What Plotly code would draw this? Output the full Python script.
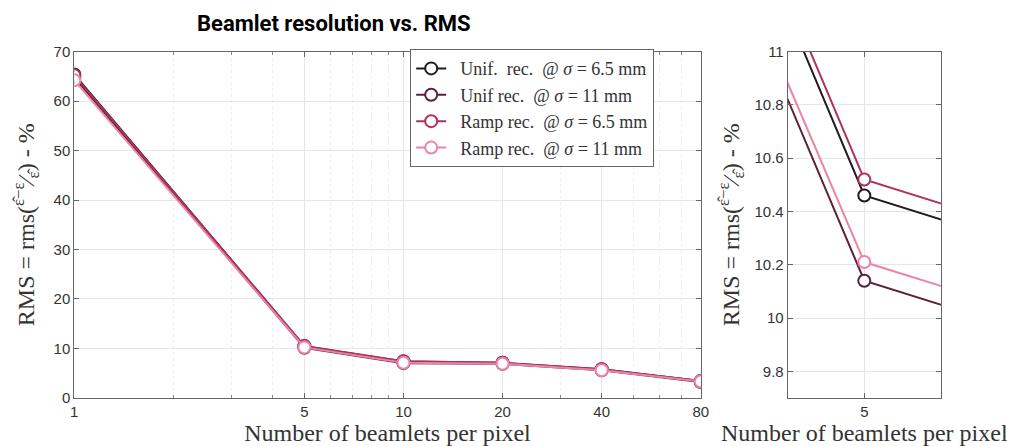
import plotly.graph_objects as go

beamlets = [1, 5, 10, 20, 40, 80]
names = [
    "  Unif.  rec.  @ <i>σ</i> = 6.5 mm",
    "  Unif rec.  @ <i>σ</i> = 11 mm",
    "  Ramp rec.  @ <i>σ</i> = 6.5 mm",
    "  Ramp rec.  @ <i>σ</i> = 11 mm",
]
unif_65 = [65.4, 10.46, 7.35, 7.10, 5.80, 3.40]
unif_11 = [64.8, 10.14, 7.03, 6.90, 5.60, 3.20]
ramp_65 = [65.2, 10.52, 7.41, 7.10, 5.80, 3.40]
ramp_11 = [64.2, 10.21, 7.10, 6.90, 5.60, 3.30]
colors = ["#231a1e", "#5e1f3c", "#ad335f", "#ec84a4"]
series = [unif_65, unif_11, ramp_65, ramp_11]

main_ticks = [1, 5, 10, 20, 40, 80]
minor_ticks = [2, 3, 4, 6, 7, 8, 9, 30, 50, 60, 70]
main_yticks = [0, 10, 20, 30, 40, 50, 60, 70]
zoom_yticks = [9.8, 10, 10.2, 10.4, 10.6, 10.8, 11]
zoom_yticktext = ["9.8", "10", "10.2", "10.4", "10.6", "10.8", "11"]

fig = go.Figure()
for vals, name, col in zip(series, names, colors):
    fig.add_trace(go.Scatter(
        x=beamlets, y=vals, name=name, mode="lines+markers",
        line=dict(color=col, width=2),
        marker=dict(symbol="circle", size=12, color="white", line=dict(color=col, width=2)),
        xaxis="x", yaxis="y"))
for vals, name, col in zip(series, names, colors):
    fig.add_trace(go.Scatter(
        x=beamlets, y=vals, name=name, mode="lines+markers", showlegend=False,
        line=dict(color=col, width=2),
        marker=dict(symbol="circle", size=12, color="white", line=dict(color=col, width=2)),
        xaxis="x2", yaxis="y2"))

tickfont = dict(family="Liberation Sans, Arial", size=15, color="#333333")
titlefont = dict(family="Liberation Serif, Times New Roman", size=24, color="#333333")
axcommon = dict(showline=True, linecolor="#666666", linewidth=1, mirror="ticks",
                ticks="inside", ticklen=5, tickcolor="#666666", tickfont=tickfont,
                zeroline=False, gridcolor="#e6e6e6", gridwidth=1)
ytitle = "RMS = rms(<sup>ε̂−ε</sup>⁄<sub>ε̂</sub>) - %"

fig.update_layout(
    width=1015, height=446,
    margin=dict(l=0, r=0, t=0, b=0),
    paper_bgcolor="white", plot_bgcolor="white",
    title=dict(text="<b>Beamlet resolution vs. RMS</b>", x=0.321, xanchor="center", y=0.966,
               yanchor="middle", font=dict(family="Roboto", size=22, color="black", weight=900)),
    xaxis=dict(type="log", domain=[0.0621, 0.6867], range=[0, 1.9031],
               tickvals=main_ticks, ticktext=[str(t) for t in main_ticks],
               minor=dict(tickvals=minor_ticks, showgrid=True, gridcolor="#ececec",
                          griddash="dot", ticks="inside", ticklen=3, tickcolor="#888888"),
               title=dict(text="Number of beamlets per pixel", font=titlefont, standoff=2),
               **axcommon),
    yaxis=dict(domain=[0.1121, 0.9193], range=[0, 70], tickvals=main_yticks,
               title=dict(text=ytitle, font=titlefont, standoff=12), **axcommon),
    xaxis2=dict(type="log", domain=[0.7734, 0.9261], range=[0.69027, 0.70767],
                tickvals=[5], ticktext=["5"], anchor="y2",
                title=dict(text="Number of beamlets per pixel", font=titlefont, standoff=2),
                **axcommon),
    yaxis2=dict(domain=[0.1121, 0.9193], range=[9.7, 11], tickvals=zoom_yticks,
                ticktext=zoom_yticktext, anchor="x2",
                title=dict(text=ytitle, font=titlefont, standoff=8), **axcommon),
    legend=dict(x=0.397, y=0.925, xanchor="left", yanchor="top",
                bgcolor="white", bordercolor="#666666", borderwidth=1,
                font=dict(family="Liberation Serif, Times New Roman", size=18, color="#333333"),
                tracegroupgap=0, itemwidth=30),
    showlegend=True,
)

fig.write_html("out.html")
